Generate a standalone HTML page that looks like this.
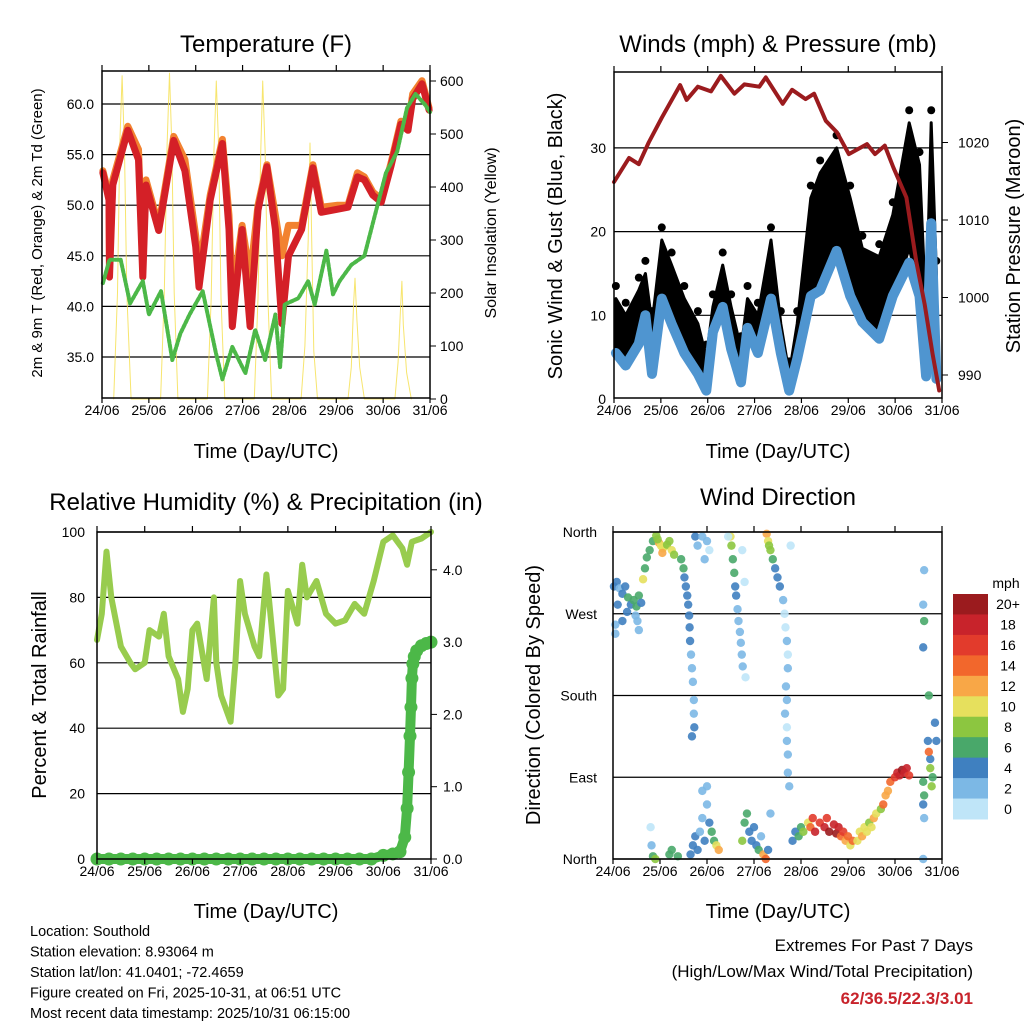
<!DOCTYPE html>
<html><head><meta charset="utf-8"><style>
html,body{margin:0;padding:0;background:#fff;}
svg{display:block;font-family:"Liberation Sans",Arial,sans-serif;}
</style></head><body>
<svg id="c" width="1024" height="1024" viewBox="0 0 1024 1024" xmlns="http://www.w3.org/2000/svg"></svg>
<script>
// ---------- DATA ----------
const dayLabels=["24/06","25/06","26/06","27/06","28/06","29/06","30/06","31/06"];
// Temperature panel
const tT=[0.02,0.15,0.16,0.23,0.55,0.78,0.87,0.94,1.21,1.53,1.77,2.0,2.07,2.31,2.57,2.71,2.78,2.99,3.16,3.33,3.52,3.7,3.84,3.98,4.26,4.5,4.68,5.03,5.25,5.45,5.6,5.78,5.96,6.17,6.38,6.53,6.63,6.83,6.98];
const temp2m=[53.2,50.5,42.9,52,57.4,54.5,42.9,52,47.5,56.4,53.4,45.9,41.9,50.5,56.1,47.6,38,47.6,38,49.5,53.8,47.6,38.3,45,47.6,53.7,49.3,49.6,49.8,52.8,52.5,51,50.3,53.9,58,57.4,60.5,62,59.4];
const temp9m=[53.4,51,44,52.5,57.8,55.5,44,52.5,48,56.8,54.5,47,43.5,51,56.5,49,41,48,42.9,50,54,49,45,48,48,54,49.8,50,50,53.2,52.8,51.3,50.6,54.2,58.3,57.8,61,62.3,59.6];
const tTd=[0.02,0.16,0.4,0.6,0.87,1.0,1.26,1.5,1.67,1.87,2.15,2.43,2.57,2.78,3.06,3.27,3.48,3.7,3.8,3.9,4.19,4.4,4.54,4.79,4.93,5.07,5.32,5.6,5.88,6.06,6.3,6.51,6.69,6.9,7.0];
const dewpt=[42.3,44.6,44.6,40.3,42.5,39.2,41.5,34.7,37.3,39.2,41.5,35.4,32.8,36,33.4,37.7,34.7,39.2,34,40.2,40.8,42.5,40.2,45.5,41.2,42.5,44.1,45,50,53.2,55.3,59.6,61,59.9,59.2];
const tSolar=[0.25,0.33,0.38,0.43,0.48,0.53,0.62,1.25,1.33,1.39,1.44,1.49,1.54,1.62,2.25,2.33,2.39,2.44,2.49,2.54,2.62,3.25,3.33,3.39,3.43,3.48,3.54,3.62,4.25,4.33,4.4,4.44,4.48,4.52,4.6,5.25,5.32,5.37,5.4,5.44,5.5,5.6,6.25,6.32,6.37,6.4,6.43,6.5,6.6];
const solar=[0,200,480,610,470,200,0,0,200,480,615,480,200,0,0,190,470,600,470,190,0,0,190,470,600,470,190,0,0,100,300,483,280,90,0,0,60,180,228,150,60,0,0,70,170,222,140,50,0];
// Winds panel
const tW=[0.04,0.25,0.53,0.67,0.81,1.02,1.23,1.5,1.79,1.97,2.11,2.32,2.5,2.71,2.85,3.07,3.35,3.56,3.74,3.91,4.2,4.4,4.75,5.04,5.3,5.66,5.95,6.3,6.52,6.66,6.77,6.88];
const windSpd=[5.5,4,6.6,10,3,12,9,5.5,3,1,8,11,6,2,8.5,5.5,12,5.5,1,4.8,12.3,13,17.7,12.3,9.2,7.2,12.3,16.3,12.3,2.7,21,2.4];
const gustHi=[12,10,13,15,9,19,16,12,9,5,11,16,11,6,12,10,19,9,3,9,24,27,30,24,18,17,22,33,28,10,33,15];
const gustLo=[6,5,7,10,4,13,10,7,4,1.5,7,11,7,2,8,6,12,6,1,5,12,14,17,12,10,8,12,18,13,3,20,5];
const tP=[0.0,0.32,0.53,0.74,1.02,1.41,1.55,1.79,2.07,2.28,2.57,2.78,3.1,3.24,3.6,3.8,4.09,4.27,4.52,4.76,5.01,5.4,5.57,5.78,5.96,6.24,6.45,6.63,6.8,6.94];
const pressure=[1014.9,1018,1017.2,1020,1023.2,1027.4,1025.5,1027.2,1026.6,1028.6,1026.3,1027.5,1027.2,1028.4,1025,1026.8,1025.6,1026.3,1022.8,1021.3,1018.5,1019.8,1018.5,1019.6,1016.8,1012.9,1004.7,999.1,992.7,988];
// RH panel
const tRH=[0,0.1,0.2,0.3,0.5,0.7,0.8,1.0,1.1,1.3,1.4,1.5,1.7,1.8,1.9,2.0,2.1,2.3,2.45,2.5,2.6,2.8,2.9,3.0,3.1,3.3,3.4,3.55,3.6,3.8,3.9,4.0,4.2,4.3,4.4,4.6,4.8,5.0,5.2,5.4,5.6,5.8,6.0,6.2,6.4,6.5,6.6,6.8,7.0];
const rh=[67,75,94,80,65,60,58,60,70,68,75,62,55,45,52,70,72,55,80,60,50,42,60,85,75,65,62,87,80,50,52,82,72,90,80,85,75,72,73,78,75,85,97,99,95,90,97,98,100];
const tPr=[0,0.25,0.5,0.75,1,1.25,1.5,1.75,2,2.25,2.5,2.75,3,3.25,3.5,3.75,4,4.25,4.5,4.75,5,5.25,5.5,5.75,6,6.2,6.35,6.45,6.5,6.53,6.56,6.58,6.6,6.62,6.65,6.7,6.8,6.9,7.0];
const precip=[0,0,0,0,0,0,0,0,0,0,0,0,0,0,0,0,0,0,0,0,0,0,0,0,0.05,0.07,0.1,0.3,0.7,1.2,1.7,2.1,2.5,2.7,2.8,2.88,2.95,2.98,3.0];
// Wind direction panel
const dirT=[0.02,0.08,0.14,0.2,0.26,0.32,0.38,0.44,0.5,0.55,0.6,0.1,0.3,0.48,0.05,0.05,0.2,0.52,0.55,
0.64,0.68,0.72,0.78,0.85,0.92,0.98,1.02,1.06,1.1,1.15,1.2,1.25,1.3,1.05,0.95,
1.45,1.5,1.52,1.55,1.58,1.6,1.62,1.63,1.64,1.66,1.68,1.7,1.72,1.72,1.73,1.68,
1.75,1.8,1.9,2.0,2.05,1.95,
2.5,2.52,2.55,2.58,2.6,2.62,2.65,2.67,2.7,2.72,2.74,2.76,2.8,2.82,2.45,2.75,
3.27,3.3,3.32,3.35,3.4,3.45,3.5,3.55,3.62,3.65,3.67,3.7,3.72,3.72,3.68,3.7,3.66,3.7,3.7,3.72,3.72,3.75,3.78,
0.8,0.82,0.85,0.9,1.2,1.25,1.38,
1.65,1.7,1.75,1.8,1.85,1.9,1.95,2.0,2.05,2.1,2.15,2.2,2.25,2.0,1.9,
2.75,2.8,2.85,2.9,2.95,3.0,3.05,3.1,3.15,3.2,3.25,3.3,3.35,
3.82,3.88,3.95,4.0,4.05,
4.15,4.2,4.25,4.3,4.4,4.5,4.55,4.6,4.7,4.75,4.8,4.85,4.9,4.95,5.0,5.05,5.1,
5.2,5.25,5.3,5.35,5.4,5.45,5.5,5.55,5.6,5.7,5.75,5.8,5.85,
5.9,6.0,6.05,6.1,6.15,6.2,6.25,6.3,
6.6,6.62,6.6,6.62,6.6,6.62,6.6,6.62,6.6,6.75,6.72,6.75,6.8,6.78,6.85,6.88,6.72,6.7];
const dirDeg=[300,305,298,292,300,288,280,285,278,290,282,280,272,268,258,248,262,262,252,
308,320,332,340,350,356,348,345,342,344,346,350,340,335,337,352,
330,320,310,300,290,280,268,255,240,225,210,195,175,160,145,135,
355,345,355,350,340,330,
355,345,330,315,300,290,275,262,250,238,225,212,305,200,355,340,
358,350,345,340,330,320,310,300,285,270,255,240,225,210,190,175,160,145,130,115,95,80,345,
35,15,3,0,5,10,3,
5,15,25,10,30,45,20,60,40,30,20,15,10,80,75,
20,40,50,30,20,35,15,10,25,5,0,10,50,
20,30,25,35,30,
40,35,45,30,40,35,45,30,38,28,35,25,30,20,25,15,20,
20,30,25,35,30,40,35,45,50,55,60,70,75,
85,90,95,92,98,95,100,92,
85,70,60,45,0,318,280,262,233,110,118,100,90,80,150,130,180,130];
const dirSpd=[4,4,3,4,5,7,4,7,6,7,4,4,4,3,3,2,4,3,2,
10,6,6,7,7,8,12,10,10,11,9,9,10,8,12,8,
6,6,5,4,4,4,4,4,4,3,2,2,2,2,4,4,
4,3,2,2,1,2,
10,8,6,6,4,4,3,2,2,2,2,2,1,1,1,1,
12,10,8,8,6,4,4,4,2,1,1,2,1,2,2,2,2,1,2,2,2,2,1,
1,2,7,8,6,7,6,
4,5,4,4,3,3,4,2,4,6,7,10,12,2,2,
8,6,6,4,4,4,4,6,3,12,14,4,2,
4,4,6,6,8,
10,14,16,18,16,18,16,20,18,20,18,14,16,12,14,10,14,
10,10,12,10,10,8,10,12,10,8,14,12,12,
14,16,18,18,20,18,18,16,
6,6,4,2,2,2,2,6,4,4,14,8,6,8,4,4,6,4];
const cbLabels=["20+","18","16","14","12","10","8","6","4","2","0"];
const cbColors=["#9b1b1e","#c8232b","#e23b2c","#f2672c","#f8a747","#e6e05d","#8cc640","#49a86a","#3f80c0","#7cb8e5","#bfe5f8"];

// ---------- HELPERS ----------
const S=document.getElementById('c');
const NS="http://www.w3.org/2000/svg";
function mk(tag,attrs,parent){const e=document.createElementNS(NS,tag);for(const k in attrs)e.setAttribute(k,attrs[k]);(parent||S).appendChild(e);return e;}
function txt(x,y,s,size,anchor,extra){const e=mk('text',Object.assign({x:x,y:y,'font-size':size,'text-anchor':anchor||'middle',fill:'#000'},extra||{}));e.textContent=s;return e;}
function line(x1,y1,x2,y2,c,w){return mk('line',{x1:x1,y1:y1,x2:x2,y2:y2,stroke:c||'#000','stroke-width':w||1});}
function poly(xs,ys,fx,fy,c,w,extra){const p=xs.map((t,i)=>fx(t).toFixed(1)+','+fy(ys[i]).toFixed(1)).join(' ');return mk('polyline',Object.assign({points:p,fill:'none',stroke:c,'stroke-width':w,'stroke-linejoin':'round','stroke-linecap':'round'},extra||{}));}
function spdColor(s){let i=Math.min(10,Math.floor(s/2));return cbColors[10-i];}

function frame(x0,x1,y0,y1,name){
  const g=mk('g',{});
  
  
  mk('rect',{x:x0,y:y0,width:x1-x0,height:y1-y0,fill:'none',stroke:'#000','stroke-width':1.5},g);
  return g;
}
function xAxis(x0,x1,yb,yt,gname){
  const g=mk('g',{});
  
  
  const step=(x1-x0)/7;
  dayLabels.forEach((l,i)=>{const x=x0+i*step;
    mk('line',{x1:x,y1:yb,x2:x,y2:yb+5,stroke:'#000','stroke-width':1.2},g);
    mk('line',{x1:x,y1:yt,x2:x,y2:yt-6,stroke:'#000','stroke-width':1.2},g);
    const t=mk('text',{x:x,y:yb+17,'font-size':14,'text-anchor':'middle'},g);t.textContent=l;});
}

// ---------- PANEL 1: TEMPERATURE ----------
const P1={x0:102,x1:430,y0:71,y1:398};
const x1f=d=>P1.x0+d*(P1.x1-P1.x0)/7;
const yT=v=>357-(v-35)*10.12;
const yS=v=>399-v*0.53;
[35,40,45,50,55,60].forEach(v=>{line(P1.x0,yT(v),P1.x1,yT(v),'#000',1.2);txt(P1.x0-8,yT(v)+5,v.toFixed(1),14,'end');});
[0,100,200,300,400,500,600].forEach(v=>{line(P1.x1,yS(v),P1.x1+6,yS(v));txt(P1.x1+10,yS(v)+5,String(v),14,'start');});
let sl=poly(tSolar,solar,x1f,yS,'#f5de4a',1,{opacity:0.8});


let ol=poly(tT,temp9m,x1f,yT,'#f28230',7);


let rl=poly(tT,temp2m,x1f,yT,'#d42027',7);


let gl=poly(tTd,dewpt,x1f,yT,'#4cb848',4,{'stroke-dasharray':'3 2'});


frame(P1.x0,P1.x1,P1.y0,P1.y1,'temperature-plot-frame');
xAxis(P1.x0,P1.x1,P1.y1,P1.y0,'temperature-x-axis');
let t1=txt(266,52,'Temperature (F)',24);


let a1=txt(266,458,'Time (Day/UTC)',20);


let a2=txt(0,0,'2m & 9m T (Red, Orange) & 2m Td (Green)',15,'middle',{transform:'translate(42,233) rotate(-90)'});


let a3=txt(0,0,'Solar Insolation (Yellow)',16,'middle',{transform:'translate(496,233) rotate(-90)'});



// ---------- PANEL 2: WINDS ----------
const P2={x0:614,x1:942,y0:72,y1:398};
const x2f=d=>P2.x0+d*(P2.x1-P2.x0)/7;
const yW=v=>399-v*8.37;
const yP=p=>375-(p-990)*7.75;
[10,20,30].forEach(v=>line(P2.x0,yW(v),P2.x1,yW(v),'#000',1.2));
[0,10,20,30].forEach(v=>txt(P2.x0-8,yW(v)+5,String(v),14,'end'));
[990,1000,1010,1020].forEach(v=>{line(P2.x1,yP(v),P2.x1+6,yP(v));txt(P2.x1+16,yP(v)+5,String(v),14,'start');});
{const pts=tW.map((t,i)=>x2f(t).toFixed(1)+','+yW(gustHi[i]).toFixed(1)).concat(tW.slice().reverse().map((t,j)=>{const i=tW.length-1-j;return x2f(t).toFixed(1)+','+yW(gustLo[i]).toFixed(1);})).join(' ');
 let gb=mk('polygon',{points:pts,fill:'#000',stroke:'#000','stroke-width':3,'stroke-linejoin':'round'});
 
 
 tW.forEach((t,i)=>{const c=mk('circle',{cx:x2f(t),cy:yW(gustHi[i]+1.5),r:4,fill:'#000'});
   
   });
}
let wl=poly(tW,windSpd,x2f,yW,'#4f95d0',10);


let pl=poly(tP,pressure,x2f,yP,'#9b1b1e',4);


frame(P2.x0,P2.x1,P2.y0,P2.y1,'winds-plot-frame');
xAxis(P2.x0,P2.x1,P2.y1,P2.y0,'winds-x-axis');
let t2=txt(778,52,'Winds (mph) & Pressure (mb)',24);


let b1=txt(778,458,'Time (Day/UTC)',20);


let b2=txt(0,0,'Sonic Wind & Gust (Blue, Black)',20,'middle',{transform:'translate(562,236) rotate(-90)'});


let b3=txt(0,0,'Station Pressure (Maroon)',20,'middle',{transform:'translate(1020,236) rotate(-90)'});



// ---------- PANEL 3: RH ----------
const P3={x0:97,x1:431,y0:532,y1:859};
const x3f=d=>P3.x0+d*(P3.x1-P3.x0)/7;
const yRH=v=>859-v*3.27;
const yPr=v=>859-v*72.3;
[20,40,60,80,100].forEach(v=>line(P3.x0,yRH(v),P3.x1,yRH(v),'#000',1.2));
[0,20,40,60,80,100].forEach(v=>txt(P3.x0-12,yRH(v)+5,String(v),14,'end'));
[0,1,2,3,4].forEach(v=>{line(P3.x1,yPr(v),P3.x1+6,yPr(v));txt(P3.x1+12,yPr(v)+5,v.toFixed(1),14,'start');});
let rhl=poly(tRH,rh,x3f,yRH,'#98cc4e',6);


let prl=poly(tPr,precip,x3f,yPr,'#4cb848',10);


tPr.forEach((t,i)=>{const c=mk('circle',{cx:x3f(t),cy:yPr(precip[i]),r:6.5,fill:'#4cb848'});
  
  });
frame(P3.x0,P3.x1,P3.y0,P3.y1,'rh-plot-frame');
xAxis(P3.x0,P3.x1,P3.y1,P3.y0,'rh-x-axis');
let t3=txt(266,510,'Relative Humidity (%) & Precipitation (in)',24);


let c1=txt(266,918,'Time (Day/UTC)',20);


let c2=txt(0,0,'Percent & Total Rainfall',20,'middle',{transform:'translate(46,695) rotate(-90)'});



// ---------- PANEL 4: WIND DIRECTION ----------
const P4={x0:613,x1:942,y0:532,y1:859};
const x4f=d=>P4.x0+d*(P4.x1-P4.x0)/7;
const yD=v=>859-v*0.9083;
[[360,'North'],[270,'West'],[180,'South'],[90,'East'],[0,'North']].forEach(([v,l])=>{line(P4.x0,yD(v),P4.x1,yD(v),'#000',1.2);txt(P4.x0-16,yD(v)+5,l,14,'end');});
dirT.forEach((t,i)=>{const c=mk('circle',{cx:x4f(t),cy:yD(dirDeg[i]),r:4.2,fill:spdColor(dirSpd[i]),opacity:0.9});
  
  });
frame(P4.x0,P4.x1,P4.y0,P4.y1,'direction-plot-frame');
xAxis(P4.x0,P4.x1,P4.y1,P4.y0,'direction-x-axis');
let t4=txt(778,505,'Wind Direction',24);


let d1=txt(778,918,'Time (Day/UTC)',20);


let d2=txt(0,0,'Direction (Colored By Speed)',20,'middle',{transform:'translate(540,695) rotate(-90)'});


{const g=mk('g',{});
 
 
 const t=mk('text',{x:1006,y:588,'font-size':14,'text-anchor':'middle'},g);t.textContent='mph';
 const h=(819-594)/cbColors.length;
 cbColors.forEach((c,i)=>{mk('rect',{x:953,y:594+i*h,width:35,height:h+0.5,fill:c},g);
   const l=mk('text',{x:1008,y:594+i*h+h/2+5,'font-size':14,'text-anchor':'middle'},g);l.textContent=cbLabels[i];});
}

// ---------- FOOTER TEXT ----------
const info=["Location: Southold","Station elevation: 8.93064 m","Station lat/lon: 41.0401; -72.4659","Figure created on Fri, 2025-10-31, at 06:51 UTC","Most recent data timestamp: 2025/10/31 06:15:00"];
info.forEach((s,i)=>{const e=txt(30,936+i*20.5,s,14.5,'start');
  
  });
let e1=txt(973,951,'Extremes For Past 7 Days',17,'end');


let e2=txt(973,977,'(High/Low/Max Wind/Total Precipitation)',17,'end');


let e3=txt(973,1004,'62/36.5/22.3/3.01',17,'end',{fill:'#c8232b','font-weight':'bold'});


</script>
</body></html>
